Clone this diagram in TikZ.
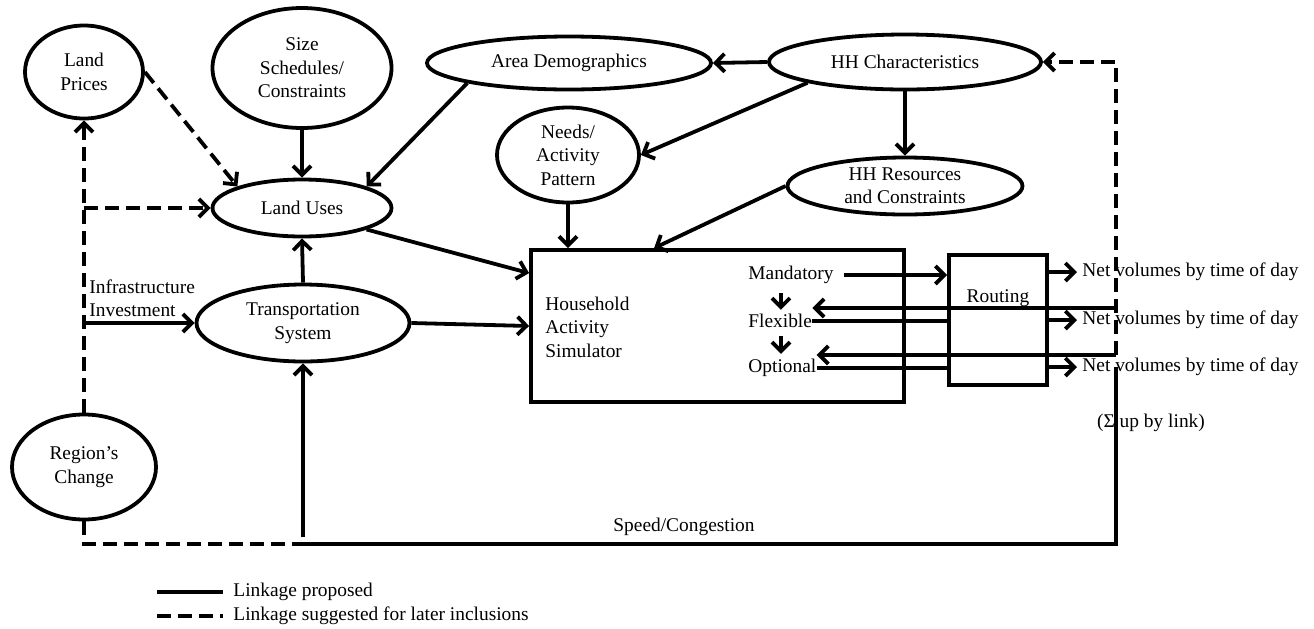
\documentclass[tikz,border=0pt]{standalone}
\usepackage{fontspec}
\setmainfont{Liberation Serif}
\usetikzlibrary{shapes.geometric,arrows.meta}

\begin{document}
\begin{tikzpicture}
[x=0.5pt,y=-0.5pt,
  every node/.style={inner sep=0pt,font=\fontsize{9.7}{11.7}\selectfont},
  ellipsedecorate/.style={shape=ellipse,draw,line width=1.9pt,align=center},
  boxdecorate/.style={shape=rectangle,draw,line width=1.9pt},
  linedecorate/.style={-,line width=1.9pt},
  arrowdecorate/.style={-{Straight Barb[length=4.5pt,width=9pt]},line width=1.9pt},
  dashdecorate/.style={dash pattern=on 7pt off 3.5pt}]
\useasboundingbox (0,0) rectangle (1314,628);
%% ellipse nodes
\foreach \nodename/\x/\y/\w/\h/\nodetext in {lp/84/72/118/93/{Land\\Prices},
  size/302/68/179/120/{Size\\Schedules/\\Constraints},
  area/569/63/284/53/{Area Demographics}, hhc/905/62/272/55/{HH Characteristics},
  needs/568/155/142/95/{Needs/\\Activity\\Pattern},
  hhr/905/186/235/57/{HH Resources\\and Constraints},
  lu/302/208/179/57/{Land Uses}, ts/303/323/213/77/{Transportation\\System},
  rc/84/467/144/105/{Region’s\\Change}} {
  \node (\nodename) at (\x,\y) [ellipsedecorate,minimum width=\w*0.5pt,minimum height=\h*0.5pt] {\nodetext};
}
%% boxes and texts
\node (has) at (717.5,326) [boxdecorate,minimum width=186.5pt,minimum height=76pt] {};
\node (rt) at (998,320) [boxdecorate,minimum width=49pt,minimum height=65pt] {};
\node (hastext) at (545,327) [anchor=west,align=left] {Household\\Activity\\Simulator};
\node (rttext) at (998,298) {Routing};
\node (mand) at (748,275) [anchor=west] {Mandatory};
\node (flex) at (748,321) [anchor=west] {Flexible};
\node (opt) at (748,368) [anchor=west] {Optional};
\foreach \nodename/\y in {net1/272, net2/320, net3/367} {
  \node (\nodename) at (1082,\y) [anchor=west] {Net volumes by time of day};
}
\node (sigma) at (1151,423) {(Σ up by link)};
\node (speed) at (684,527) {Speed/Congestion};
\node (infra) at (89,298) [anchor=west,align=left] {Infrastructure\\Investment};
\node (leg1) at (233,592) [anchor=west] {Linkage proposed};
\node (leg2) at (233,616) [anchor=west] {Linkage suggested for later inclusions};
\coordinate (fbopt) at (1116,355);
\coordinate (fbflex) at (1118,308);
\coordinate (sctop) at (1116,367);
\coordinate (scbot) at (1116,544);
%% proposed linkages
\path
\foreach \startnode/\endnode in {size.south/lu.north, area.south west/lu.north east,
  ts.north/lu.south, hhc.west/area.east, hhc.south west/needs.east, hhc.south/hhr.north} {
  (\startnode) edge[arrowdecorate] (\endnode)
};
\draw[arrowdecorate] (needs.south) -- (needs.south |- has.north);
\draw[arrowdecorate] (hhr.west) -- ([xshift=62.5pt]has.north west);
\draw[arrowdecorate] (lu.south east) -- ([yshift=-12.5pt]has.north west);
\draw[arrowdecorate] (ts.east) -- (has.west);
\draw[arrowdecorate] (lp.south |- ts.west) -- (ts.west);
\draw[arrowdecorate] ([xshift=5pt]mand.east) -- (mand.east -| rt.west);
\draw[linedecorate] (flex.east) -- (flex.east -| rt.west);
\draw[linedecorate] (opt.east) -- (opt.east -| rt.west);
\draw[arrowdecorate,shorten <=4.5pt,shorten >=2pt] ([xshift=-5pt]mand.south) -- ([xshift=-5pt]mand.south |- flex.north);
\draw[arrowdecorate,shorten <=4pt,shorten >=2.5pt] ([xshift=-5pt]mand.south |- flex.south) -- ([xshift=-5pt]mand.south |- opt.north);
\foreach \nodename in {net1,net2,net3} {
  \draw[arrowdecorate] (\nodename.west -| rt.east) -- ([xshift=-2.5pt]\nodename.west);
}
\draw[arrowdecorate] (fbflex) -- (fbflex -| flex.east);
\draw[arrowdecorate] (fbopt) -- (fbopt -| opt.east);
\draw[linedecorate] (sctop) -- (scbot) -- (scbot -| ts.south);
\draw[arrowdecorate] ([yshift=3.5pt]scbot -| ts.south) -- (ts.south);
%% suggested linkages
\draw[arrowdecorate,dashdecorate] (lp.east) -- (lu.north west);
\draw[arrowdecorate,dashdecorate] (rc.north) -- (lp.south);
\draw[arrowdecorate,dashdecorate] (lp.south |- lu.west) -- (lu.west);
\draw[arrowdecorate,dashdecorate] (fbopt) |- (hhc.east);
\draw[linedecorate,dashdecorate] (rc.south) |- (scbot -| ts.south);
%% legend
\draw[linedecorate] ([xshift=-38pt]leg1.west) -- ([xshift=-5pt]leg1.west);
\draw[linedecorate,dashdecorate] ([xshift=-38pt]leg2.west) -- ([xshift=-5pt]leg2.west);
\end{tikzpicture}
\end{document}
